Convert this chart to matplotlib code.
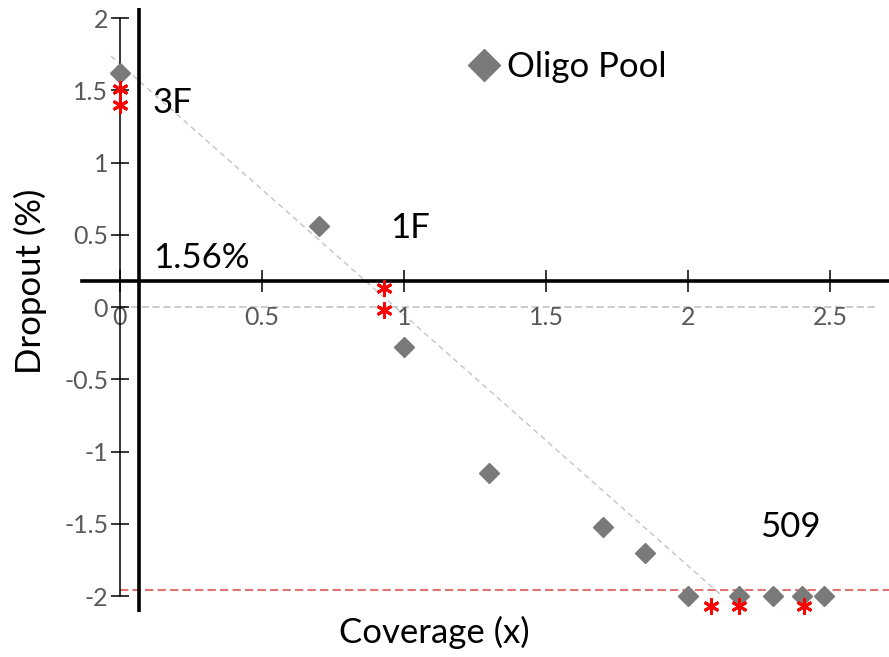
import matplotlib

matplotlib.use("Agg")
import matplotlib.pyplot as plt

plt.rcParams["font.family"] = ["Lato", "DejaVu Sans"]

# oligo pool dropout vs coverage
pool_x = [0.0, 0.70, 1.00, 1.30, 1.70, 1.85, 2.00, 2.18, 2.30, 2.40, 2.48]
pool_y = [1.62, 0.56, -0.28, -1.15, -1.52, -1.70, -2.00, -2.00, -2.00, -2.00, -2.00]

# flagged samples
star_x = [0.0, 0.0, 0.93, 0.93, 2.08, 2.18, 2.41]
star_y = [1.51, 1.40, 0.13, -0.02, -2.07, -2.07, -2.07]

# linear trend through the pool
trend_x = [-0.032, 2.12]
trend_y = [1.737, -2.00]

floor_y = -1.96
cut_x = 0.067
cut_y = 0.18

yticks = [-2, -1.5, -1, -0.5, 0, 0.5, 1, 1.5, 2]
ytick_labels = ["-2", "-1.5", "-1", "-0.5", "0", "0.5", "1", "1.5", "2"]
xticks = [0, 0.5, 1, 1.5, 2, 2.5]
xtick_labels = ["0", "0.5", "1", "1.5", "2", "2.5"]

notes = [
    ("3F", 0.116, 1.41),
    ("1.56%", 0.116, 0.34),
    ("1F", 0.95, 0.55),
    ("509", 2.254, -1.52),
]

fig = plt.figure(figsize=(8.89, 6.57), dpi=100)
ax = fig.add_axes([0, 0, 1, 1])
ax.set_xlim(-0.4225, 2.7077)
ax.set_ylim(-2.4221, 2.1246)
ax.patch.set_alpha(0)

for side in ("top", "right"):
    ax.spines[side].set_visible(False)
ax.spines["left"].set_position(("data", 0))
ax.spines["left"].set_bounds(-2, 2)
ax.spines["left"].set_linewidth(1.1)
ax.spines["bottom"].set_position(("data", cut_y))
ax.spines["bottom"].set_bounds(-0.134, 2.71)
ax.spines["bottom"].set_linewidth(2.6)

ax.set_yticks(yticks, ytick_labels)
ax.set_xticks(xticks, xtick_labels)
ax.tick_params(axis="y", direction="inout", length=13, width=1.1,
               labelsize=18, labelcolor="#595959", pad=2)
ax.tick_params(axis="x", direction="inout", length=16, width=1.1,
               labelsize=18, labelcolor="#595959", pad=10)

# reference lines
ax.plot([0, 2.67], [0, 0], color="#c8c8c8", lw=1.3, ls=(0, (4, 2)), zorder=1)
ax.plot([0, 2.71], [floor_y, floor_y], color="#e07474", lw=1.5,
        ls=(0, (4, 2)), zorder=1)
ax.plot(trend_x, trend_y, color="#c4c4c4", lw=1.0, ls=(0, (4, 3)), zorder=1)
ax.plot([cut_x, cut_x], [2.07, -2.11], color="black", lw=2.6, zorder=3,
        solid_capstyle="butt")

ax.plot(pool_x, pool_y, ls="none", marker="D", ms=10.2, color="#7a7a7a",
        label="Oligo Pool", zorder=4)
ax.plot(star_x, star_y, ls="none", marker=(6, 2, 0), ms=11.5, mew=2.1,
        color="#ff0000", zorder=5)

for text, x, y in notes:
    ax.text(x, y, text, fontsize=25, ha="left", va="center", color="black")

ax.legend(loc="center left", bbox_to_anchor=(0.5287, 0.898), frameon=False,
          fontsize=25, markerscale=1.55, handlelength=0.8, handletextpad=0.26,
          borderpad=0, borderaxespad=0)

fig.text(434 / 889, 1 - 632 / 657, "Coverage (x)", fontsize=25,
         ha="center", va="center")
fig.text(30 / 889, 1 - 281 / 657, "Dropout (%)", fontsize=25,
         rotation=90, ha="center", va="center")

fig.savefig("out.png", dpi=100)
